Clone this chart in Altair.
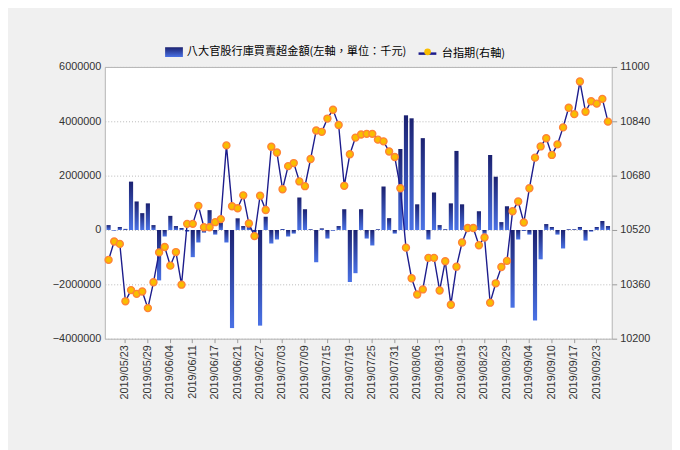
import altair as alt
import pandas as pd

dates = [
    "2019/05/20", "2019/05/21", "2019/05/22", "2019/05/23", "2019/05/24",
    "2019/05/27", "2019/05/28", "2019/05/29", "2019/05/30", "2019/05/31",
    "2019/06/03", "2019/06/04", "2019/06/05", "2019/06/06", "2019/06/10",
    "2019/06/11", "2019/06/12", "2019/06/13", "2019/06/14", "2019/06/17",
    "2019/06/18", "2019/06/19", "2019/06/20", "2019/06/21", "2019/06/24",
    "2019/06/25", "2019/06/26", "2019/06/27", "2019/06/28",
    "2019/07/01", "2019/07/02", "2019/07/03", "2019/07/04", "2019/07/05",
    "2019/07/08", "2019/07/09", "2019/07/10", "2019/07/11", "2019/07/12",
    "2019/07/15", "2019/07/16", "2019/07/17", "2019/07/18", "2019/07/19",
    "2019/07/22", "2019/07/23", "2019/07/24", "2019/07/25", "2019/07/26",
    "2019/07/29", "2019/07/30", "2019/07/31",
    "2019/08/01", "2019/08/02", "2019/08/05", "2019/08/06", "2019/08/07",
    "2019/08/08", "2019/08/12", "2019/08/13", "2019/08/14", "2019/08/15",
    "2019/08/16", "2019/08/19", "2019/08/20", "2019/08/21", "2019/08/22",
    "2019/08/23", "2019/08/26", "2019/08/27", "2019/08/28", "2019/08/29",
    "2019/08/30",
    "2019/09/02", "2019/09/03", "2019/09/04", "2019/09/05", "2019/09/06",
    "2019/09/09", "2019/09/10", "2019/09/11", "2019/09/12", "2019/09/16",
    "2019/09/17", "2019/09/18", "2019/09/19", "2019/09/20", "2019/09/23",
    "2019/09/24", "2019/09/25",
]

net_buy = [
    180000, -25000, 110000, 40000, 1780000, 1050000, 620000, 980000, 180000, -1855000,
    -240000, 520000, 145000, 73000, -60000, -1000000, -460000, -100000, 730000, -170000,
    270000, -460000, -3610000, 430000, 145000, 150000, -100000, -3520000, 485000, -500000,
    -350000, 36000, -240000, -133000, 1200000, 764000, 30000, -1190000, 60000, -315000,
    -25000, 145000, 764000, -1915000, -1590000, 764000, -315000, -570000, 30000, 1600000,
    436000, -133000, 2980000, 4220000, 4110000, 945000, 3380000, -350000, 1380000, 180000,
    30000, 980000, 2910000, 945000, 30000, 20000, 690000, -145000, 2760000, 1960000,
    290000, 873000, -2860000, -350000, -35000, -170000, -3330000, -1080000, 218000, 110000,
    -170000, -680000, 30000, 30000, 110000, -390000, -60000, 110000, 330000, 145000,
]

taiex = [
    10432, 10486, 10479, 10310, 10343, 10332, 10339, 10290, 10366, 10454,
    10470, 10415, 10455, 10359, 10538, 10538, 10591, 10528, 10528, 10543,
    10552, 10769, 10590, 10584, 10622, 10539, 10502, 10621, 10579, 10765,
    10748, 10640, 10708, 10717, 10663, 10649, 10729, 10813, 10809, 10848,
    10874, 10829, 10650, 10743, 10792, 10801, 10803, 10803, 10786, 10781,
    10751, 10735, 10643, 10468, 10378, 10330, 10345, 10438, 10438, 10342,
    10428, 10300, 10412, 10483, 10526, 10526, 10475, 10498, 10306, 10363,
    10411, 10429, 10575, 10604, 10542, 10643, 10733, 10766, 10790, 10741,
    10772, 10822, 10880, 10861, 10957, 10868, 10899, 10892, 10906, 10839,
]

x_labels = [
    "2019/05/23", "2019/05/29", "2019/06/04", "2019/06/11", "2019/06/17",
    "2019/06/21", "2019/06/27", "2019/07/03", "2019/07/09", "2019/07/15",
    "2019/07/19", "2019/07/25", "2019/07/31", "2019/08/06", "2019/08/13",
    "2019/08/19", "2019/08/23", "2019/08/29", "2019/09/04", "2019/09/10",
    "2019/09/17", "2019/09/23",
]
left_ticks = [-4000000, -2000000, 0, 2000000, 4000000, 6000000]
right_ticks = [10200, 10360, 10520, 10680, 10840, 11000]

bar_name = "八大官股行庫買賣超金額(左軸，單位：千元)"
line_name = "台指期(右軸)"
dot_name = "台指期"

df = pd.DataFrame({"date": dates, "net": net_buy, "taiex": taiex})
df["s_bar"] = bar_name
df["s_line"] = line_name
df["s_dot"] = dot_name

LATIN = "Liberation Sans"
CJK = "Noto Sans CJK TC"

x_enc = alt.X(
    "date:N",
    sort=None,
    title=None,
    scale=alt.Scale(paddingInner=0.26, paddingOuter=0.3),
    axis=alt.Axis(
        values=x_labels,
        labelAngle=-90,
        labelFont=LATIN,
        labelFontSize=11,
        labelColor="#333333",
        labelPadding=2,
        tickColor="#9a9a9a",
        tickSize=4,
        domain=False,
        grid=False,
    ),
)

bar_fill = alt.Gradient(
    gradient="linear",
    stops=[
        alt.GradientStop(color="#1b2170", offset=0),
        alt.GradientStop(color="#4a72e6", offset=1),
    ],
    x1=0, x2=0, y1=0, y2=1,
)

bars = alt.Chart(df).mark_bar(fill=bar_fill).encode(
    x=x_enc,
    y=alt.Y(
        "net:Q",
        title=None,
        scale=alt.Scale(domain=[-4000000, 6000000], nice=False, zero=False),
        axis=alt.Axis(
            orient="left",
            values=left_ticks,
            format="d",
            labelFont=LATIN,
            labelFontSize=11,
            labelColor="#333333",
            labelPadding=4,
            ticks=False,
            domain=False,
            grid=True,
            gridColor="#b8b8b8",
            gridDash=[1, 2],
        ),
    ),
    opacity=alt.Opacity(
        "s_bar:N",
        scale=alt.Scale(range=[1]),
        legend=alt.Legend(
            title=None,
            orient="none",
            legendX=61,
            legendY=-24,
            padding=0,
            symbolType="M-1,-0.55H1V0.55H-1Z",
            symbolSize=324,
            symbolFillColor="#2a3aa0",
            symbolStrokeWidth=0,
            labelFont=CJK,
            labelFontSize=11.3,
            labelColor="#000000",
            labelOffset=4,
            labelLimit=0,
        ),
    ),
)

right_axis = alt.Axis(
    orient="right",
    values=right_ticks,
    format="d",
    labelFont=LATIN,
    labelFontSize=11,
    labelColor="#333333",
    labelPadding=3,
    tickColor="#9a9a9a",
    tickSize=5,
    domain=False,
    grid=False,
)
right_scale = alt.Scale(domain=[10200, 11000], nice=False, zero=False)

line = alt.Chart(df).mark_line(strokeWidth=1.4).encode(
    x=x_enc,
    y=alt.Y("taiex:Q", title=None, scale=right_scale, axis=right_axis),
    color=alt.Color(
        "s_line:N",
        scale=alt.Scale(range=["#1c1c8c"]),
        legend=alt.Legend(
            title=None,
            orient="none",
            legendX=316,
            legendY=-24,
            padding=0,
            symbolType="stroke",
            symbolSize=324,
            symbolStrokeWidth=2.5,
            labelFont=CJK,
            labelFontSize=11.3,
            labelColor="#000000",
            labelOffset=4,
            labelLimit=0,
        ),
    ),
)

points = alt.Chart(df).mark_point(
    filled=True, fill="#f9bd00", stroke="#ff8436", strokeWidth=1.4, size=50, opacity=1
).encode(
    x=x_enc,
    y=alt.Y("taiex:Q", title=None, scale=right_scale, axis=right_axis),
    shape=alt.Shape(
        "s_dot:N",
        scale=alt.Scale(range=["circle"]),
        legend=alt.Legend(
            title=None,
            orient="none",
            legendX=321,
            legendY=-21,
            padding=0,
            symbolType="circle",
            symbolSize=46,
            symbolFillColor="#f9bd00",
            symbolStrokeColor="#ff8436",
            symbolStrokeWidth=1.4,
            labelExpr="''",
            labelFontSize=11.3,
        ),
    ),
)

chart = (
    alt.layer(bars, alt.layer(line, points))
    .resolve_scale(y="independent")
    .properties(
        width=513,
        height=275,
        autosize=alt.AutoSizeParams(type="none"),
        padding={"left": 98, "top": 57, "right": 61, "bottom": 110},
        background="#f0f0f0",
    )
    .configure_view(fill="#ffffff", stroke="#b4b4b4", strokeWidth=1)
)

chart.save("out.html", embed_options={"renderer": "svg", "actions": False})
